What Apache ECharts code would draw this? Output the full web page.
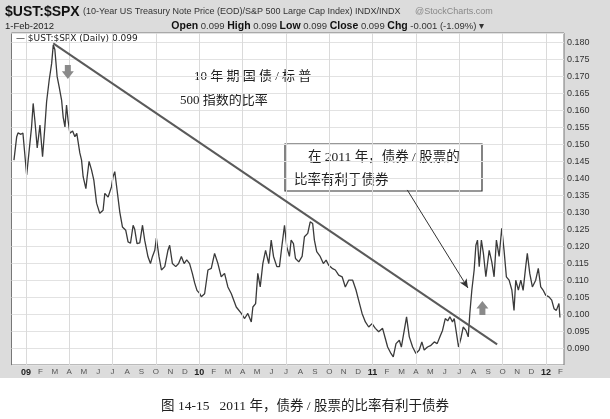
<!DOCTYPE html>
<html>
<head>
<meta charset="utf-8">
<script src="https://cdn.jsdelivr.net/npm/echarts@6/dist/echarts.min.js"></script>
<style>
  html, body { margin:0; padding:0; background:#fff; }
  #chart { width:610px; height:419px; }
</style>
</head>
<body>
<div id="chart"></div>
<script>
// === Datos: mes (0 = ene-2009, fracción del mes) y ratio $UST:$SPX ===
const months = [
  -0.83,-0.64,-0.55,-0.35,-0.21,0.05,0.39,0.50,0.62,0.78,0.97,1.15,1.31,1.43,1.61,1.78,1.89,2.00,
  2.16,2.30,2.47,2.58,2.70,2.81,2.92,3.04,3.23,3.39,3.52,3.73,3.85,3.96,4.15,4.24,4.37,4.54,4.70,
  4.89,5.11,5.34,5.46,5.69,5.92,6.03,6.15,6.31,6.50,6.68,6.91,7.07,7.24,7.42,7.53,7.69,7.88,8.07,
  8.22,8.45,8.62,8.76,8.92,9.03,9.21,9.38,9.61,9.83,9.95,10.14,10.37,10.57,10.76,10.95,11.13,11.33,
  11.52,11.68,11.84,12.02,12.14,12.37,12.60,12.83,13.06,13.29,13.52,13.75,13.98,14.22,14.56,14.91,
  15.14,15.36,15.60,15.71,15.90,16.05,16.22,16.40,16.59,16.81,16.98,17.14,17.37,17.55,17.74,17.90,
  18.06,18.24,18.36,18.52,18.66,18.89,19.12,19.28,19.51,19.68,19.85,19.97,20.13,20.37,20.59,20.78,
  20.96,21.20,21.42,21.65,21.89,22.11,22.34,22.62,22.85,23.03,23.27,23.50,23.73,23.96,24.19,24.42,
  24.69,24.88,25.04,25.27,25.43,25.62,25.85,25.99,26.19,26.35,26.54,26.77,27.00,27.23,27.41,27.57,
  27.80,28.04,28.27,28.47,28.66,28.84,29.03,29.20,29.35,29.53,29.65,29.81,29.95,30.11,30.27,30.46,
  30.62,30.73,30.87,31.03,31.15,31.26,31.38,31.53,31.67,31.84,32.07,32.25,32.41,32.57,32.76,32.94,
  33.10,33.26,33.45,33.64,33.79,33.91,34.09,34.26,34.42,34.60,34.71,34.88,35.06,35.29,35.47,35.64,
  35.80,35.98,36.21,36.40,36.56,36.72,36.90,36.97
];
const ratio = [
  0.1454,0.1523,0.1534,0.1530,0.1534,0.1410,0.1552,0.1621,0.1570,0.1490,0.1557,0.1464,0.1552,0.1626,0.1690,0.1739,0.1793,0.1780,
  0.1700,0.1670,0.1630,0.1580,0.1552,0.1616,0.1570,0.1533,0.1540,0.1523,0.1533,0.1475,0.1454,0.1405,0.1370,0.1405,0.1450,0.1425,0.1395,
  0.1327,0.1297,0.1306,0.1356,0.1345,0.1375,0.1405,0.1420,0.1365,0.1300,0.1257,0.1247,0.1213,0.1209,0.1262,0.1250,0.1208,0.1210,0.1262,
  0.1218,0.1169,0.1149,0.1170,0.1188,0.1224,0.1170,0.1130,0.1140,0.1188,0.1203,0.1149,0.1140,0.1149,0.1170,0.1149,0.1160,0.1149,
  0.1120,0.1092,0.1070,0.1061,0.1051,0.1060,0.1130,0.1135,0.1179,0.1149,0.1110,0.1120,0.1080,0.1060,0.1021,0.1002,
  0.0987,0.1002,0.0977,0.1021,0.1031,0.1120,0.1080,0.1149,0.1188,0.1149,0.1218,0.1170,0.1140,0.1140,0.1208,0.1262,
  0.1198,0.1170,0.1218,0.1208,0.1164,0.1154,0.1170,0.1228,0.1238,0.1272,0.1267,0.1218,0.1184,0.1170,0.1149,0.1159,
  0.1144,0.1135,0.1130,0.1115,0.1110,0.1080,0.1100,0.1100,0.1071,0.1041,0.1002,0.0977,0.0962,0.0972,0.0958,0.0948,
  0.0958,0.0928,0.0903,0.0884,0.0874,0.0913,0.0923,0.0903,0.0952,0.0992,0.0933,0.0903,0.0884,0.0894,0.0918,0.0894,
  0.0903,0.0908,0.0918,0.0913,0.0933,0.0952,0.0987,0.0980,0.0992,0.0977,0.0987,0.0942,0.0903,0.0928,0.0962,0.0952,
  0.0933,0.1002,0.1071,0.1130,0.1203,0.1218,0.1140,0.1218,0.1179,0.1110,0.1188,0.1154,0.1110,0.1218,0.1170,0.1253,
  0.1188,0.1110,0.1100,0.1071,0.1011,0.1100,0.1071,0.1100,0.1070,0.1140,0.1179,0.1120,0.1080,0.1100,0.1135,0.1080,
  0.1071,0.1056,0.1051,0.1041,0.1016,0.1011,0.1031,0.0990
];

// === Etiquetas de ejes ===
const MONTH_TICKS = ['J','F','M','A','M','J','J','A','S','O','N','D'];
const YEAR_TICKS  = { 0:'09', 12:'10', 24:'11', 36:'12' };
const QUARTERS    = [0,3,6,9,12,15,18,21,24,27,30,33,36];

// === Anotaciones (coordenadas de datos) ===
const trendLine   = [[1.89, 0.1798], [32.62, 0.0911]];
const calloutLine = [[26.4, 0.1366], [30.6, 0.1077]];
const downArrowAt = [2.9, 0.1714];
const upArrowAt   = [31.6, 0.1018];

const SANS  = '"Liberation Sans", Arial, sans-serif';
const SERIF = '"Liberation Serif", "Noto Sans CJK SC", serif';
const DOWN_ARROW = 'path://M3,0 L9,0 L9,6 L12,6 L6,13 L0,6 L3,6 Z';
const UP_ARROW   = 'path://M6,0 L12,7 L9,7 L9,13 L3,13 L3,7 L0,7 Z';

const chart = echarts.init(document.getElementById('chart'));
chart.setOption({
  animation:false,
  backgroundColor:'#dcdcdc',
  grid:{ left:11.5, right:46, top:33, bottom:54, containLabel:false, outerBoundsMode:'none',
    show:true, backgroundColor:'#fff', borderColor:'#777', borderWidth:1 },
  xAxis:{
    type:'value', min:-1, max:37.25, interval:1,
    axisLine:{ show:false }, axisTick:{ show:false }, splitLine:{ show:false },
    axisLabel:{
      margin:3, fontSize:8, color:'#555', fontFamily:SANS,
      formatter:v=>{
        const m = Math.round(v);
        if(m < 0 || m > 37) return '';
        if(YEAR_TICKS[m]) return '{y|' + YEAR_TICKS[m] + '}';
        return MONTH_TICKS[m % 12];
      },
      rich:{ y:{ fontSize:9, fontWeight:'bold', color:'#222', fontFamily:SANS } }
    }
  },
  yAxis:{
    type:'value', position:'right', min:0.085, max:0.18286, interval:0.005,
    axisLine:{ show:false }, axisTick:{ show:false },
    splitLine:{ lineStyle:{ color:'#e2e2e2', width:1 } },
    axisLabel:{ margin:3, fontSize:9, color:'#333', fontFamily:SANS,
      formatter:v=> (v < 0.0875 || v > 0.1805) ? '' : v.toFixed(3) }
  },
  series:[
    { // rejilla trimestral vertical
      type:'line', data:[[0,0.13]], showSymbol:false, lineStyle:{ opacity:0 }, z:1, silent:true,
      markLine:{ silent:true, symbol:'none', label:{ show:false },
        lineStyle:{ color:'#dadada', width:1, type:'solid' },
        data: QUARTERS.map(q=>({ xAxis:q })) }
    },
    {
      type:'line', name:'$UST:$SPX', z:3, showSymbol:false, silent:true,
      lineStyle:{ color:'#3a3a3a', width:1.3 },
      data: months.map((m,i)=>[m, ratio[i]]),
      markLine:{ silent:true, label:{ show:false },
        data:[
          [ { coord:trendLine[0], symbol:'none', lineStyle:{ color:'#5a5a5a', width:2, type:'solid' } },
            { coord:trendLine[1], symbol:'none' } ],
          [ { coord:calloutLine[0], symbol:'none', lineStyle:{ color:'#333', width:1, type:'solid' } },
            { coord:calloutLine[1], symbol:'arrow', symbolSize:[6,9] } ]
        ] },
      markPoint:{ silent:true, label:{ show:false },
        data:[
          { coord:downArrowAt, symbol:DOWN_ARROW, symbolSize:[12,14], itemStyle:{ color:'#8a8a8a' } },
          { coord:upArrowAt,   symbol:UP_ARROW,   symbolSize:[12,14], itemStyle:{ color:'#8a8a8a' } }
        ] }
    }
  ],
  graphic:[
    { type:'rect', silent:true, shape:{ x:0, y:378, width:610, height:41 }, style:{ fill:'#fff' } },
    // cabecera
    { type:'text', x:5, y:12, style:{ text:'{t|$UST:$SPX} {s|(10-Year US Treasury Note Price (EOD)/S&P 500 Large Cap Index) INDX/INDX}',
        textVerticalAlign:'middle', rich:{
          t:{ font:'bold 14px ' + SANS, fill:'#111' },
          s:{ font:'9px ' + SANS, fill:'#333' } } } },
    { type:'text', x:415, y:12, style:{ text:'@StockCharts.com', font:'9px ' + SANS, fill:'#888', textVerticalAlign:'middle' } },
    { type:'text', x:5, y:26, style:{ text:'1-Feb-2012', font:'9.5px ' + SANS, fill:'#222', textVerticalAlign:'middle' } },
    { type:'text', x:484, y:26, style:{
        text:'{b|Open} 0.099 {b|High} 0.099 {b|Low} 0.099 {b|Close} 0.099 {b|Chg} -0.001 (-1.09%) ▾',
        font:'9.5px ' + SANS, fill:'#333', textAlign:'right', textVerticalAlign:'middle',
        rich:{ b:{ font:'bold 10.5px ' + SANS, fill:'#111' } } } },
    // leyenda
    { type:'text', x:16, y:39, style:{ text:'— $UST:$SPX (Daily) 0.099', font:'9px "DejaVu Sans", sans-serif', fill:'#222', textVerticalAlign:'middle' } },
    // anotación 1
    { type:'text', x:194, y:77, style:{ text:'10 年 期 国 债 / 标 普', font:'13px ' + SERIF, fill:'#222', textVerticalAlign:'middle' } },
    { type:'text', x:180, y:101, style:{ text:'500 指数的比率', font:'13px ' + SERIF, fill:'#222', textVerticalAlign:'middle' } },
    // recuadro
    { type:'rect', shape:{ x:285, y:144, width:197, height:47 }, style:{ fill:'#fff', stroke:'#333', lineWidth:1.2 } },
    { type:'text', x:308, y:157, style:{ text:'在 2011 年，债券 / 股票的', font:'13.5px ' + SERIF, fill:'#222', textVerticalAlign:'middle' } },
    { type:'text', x:294, y:180, style:{ text:'比率有利于债券', font:'13.5px ' + SERIF, fill:'#222', textVerticalAlign:'middle' } },
    // pie
    { type:'text', x:305, y:406, style:{ text:'图 14-15   2011 年，债券 / 股票的比率有利于债券', font:'13.5px ' + SERIF, fill:'#222',
        textAlign:'center', textVerticalAlign:'middle' } }
  ]
});
</script>
</body>
</html>
